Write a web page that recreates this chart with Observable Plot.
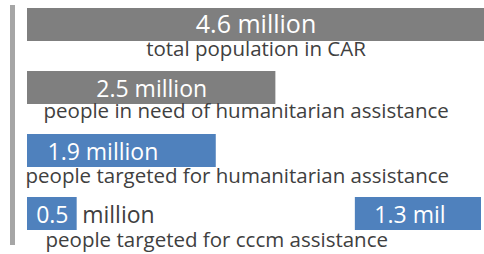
<!DOCTYPE html>
<html>
<head>
<meta charset="utf-8">
<script src="https://cdn.jsdelivr.net/npm/d3@7"></script>
<script src="https://cdn.jsdelivr.net/npm/@observablehq/plot@0.6"></script>
<style>
  html, body { margin: 0; padding: 0; background: #ffffff; }
  #chart svg { display: block; }
</style>
</head>
<body>
<div id="chart"></div>
<script>
// ---- data ----
const rows = ["total", "need", "targeted", "cccm"];
const values = [4.6, 2.5, 1.9, 0.5];
const valueLabels = ["4.6 million", "2.5 million", "1.9 million", "0.5"];
const groups = ["population", "population", "targeted", "targeted"];
const descriptions = [
  "total population in CAR",
  "people in need of humanitarian assistance",
  "people targeted for humanitarian assistance",
  "people targeted for cccm assistance"
];
const cccmUnit = "million";
const splitValue = 1.3;
const splitLabel = "1.3 mil";
const totalValue = 4.6;

const data = rows.map((r, i) => ({
  row: r, value: values[i], label: valueLabels[i], group: groups[i], desc: descriptions[i]
}));
const split = [{row: "cccm", x1: totalValue - splitValue, x2: totalValue, label: splitLabel, group: "targeted"}];

const textColor = "#404040";
const font = "'Open Sans', sans-serif";
const valueSize = 23;
const descSize = 20.5;

const chart = Plot.plot({
  width: 484,
  height: 254,
  marginLeft: 27,
  marginRight: 0,
  marginTop: 6,
  marginBottom: 23,
  style: {fontFamily: font, background: "#ffffff"},
  x: {domain: [0, totalValue], axis: null},
  y: {domain: rows, range: [6, 231], paddingInner: 0.48, paddingOuter: 0, axis: null},
  color: {domain: ["population", "targeted"], range: ["#7f7f7f", "#4f81bd"]},
  marks: [
    Plot.ruleX([0], {dx: -15, stroke: "#a6a6a6", strokeWidth: 5, insetTop: -1, insetBottom: -14}),
    Plot.barX(data, {y: "row", x1: 0, x2: "value", fill: "group"}),
    Plot.barX(split, {y: "row", x1: "x1", x2: "x2", fill: "group", insetRight: 3}),
    // headline value label (row 1)
    Plot.text(data.filter(d => d.row === "total"), {
      y: "row", x: d => d.value / 2, text: "label", fill: "white",
      fontSize: 25, dy: 0, textAnchor: "middle"
    }),
    // value labels centered in bars (rows 2,4)
    Plot.text(data.filter(d => d.row === "need" || d.row === "cccm"), {
      y: "row", x: d => d.value / 2, text: "label", fill: "white",
      fontSize: valueSize, dy: 2, textAnchor: "middle"
    }),
    // value label near bar start (row 3)
    Plot.text(data.filter(d => d.row === "targeted"), {
      y: "row", x: 0, text: "label", fill: "white",
      fontSize: valueSize, dy: 2, dx: 20, textAnchor: "start"
    }),
    // "million" after the small bar
    Plot.text(data.filter(d => d.row === "cccm"), {
      y: "row", x: "value", text: () => cccmUnit, fill: textColor,
      fontSize: valueSize, dy: 2, dx: 5, textAnchor: "start"
    }),
    // split bar label
    Plot.text(split, {
      y: "row", x: "x1", text: "label", fill: "white",
      fontSize: valueSize, dy: 2, dx: 19, textAnchor: "start"
    }),
    // descriptions under the bars
    Plot.text(data.filter(d => d.row === "total"), {
      y: "row", x: d => d.value / 2, text: "desc", fill: textColor,
      fontSize: descSize, dy: 31, lineAnchor: "bottom", textAnchor: "middle"
    }),
    Plot.text(data.filter(d => d.row === "need"), {
      y: "row", x: 0, text: "desc", fill: textColor,
      fontSize: descSize, dy: 30, dx: 16, lineAnchor: "bottom", textAnchor: "start"
    }),
    Plot.text(data.filter(d => d.row === "targeted"), {
      y: "row", x: 0, text: "desc", fill: textColor,
      fontSize: descSize, dy: 32, dx: -2, lineAnchor: "bottom", textAnchor: "start"
    }),
    Plot.text(data.filter(d => d.row === "cccm"), {
      y: "row", x: 0, text: "desc", fill: textColor,
      fontSize: descSize, dy: 33, dx: 18, lineAnchor: "bottom", textAnchor: "start"
    })
  ]
});
document.getElementById("chart").appendChild(chart);
</script>
</body>
</html>
